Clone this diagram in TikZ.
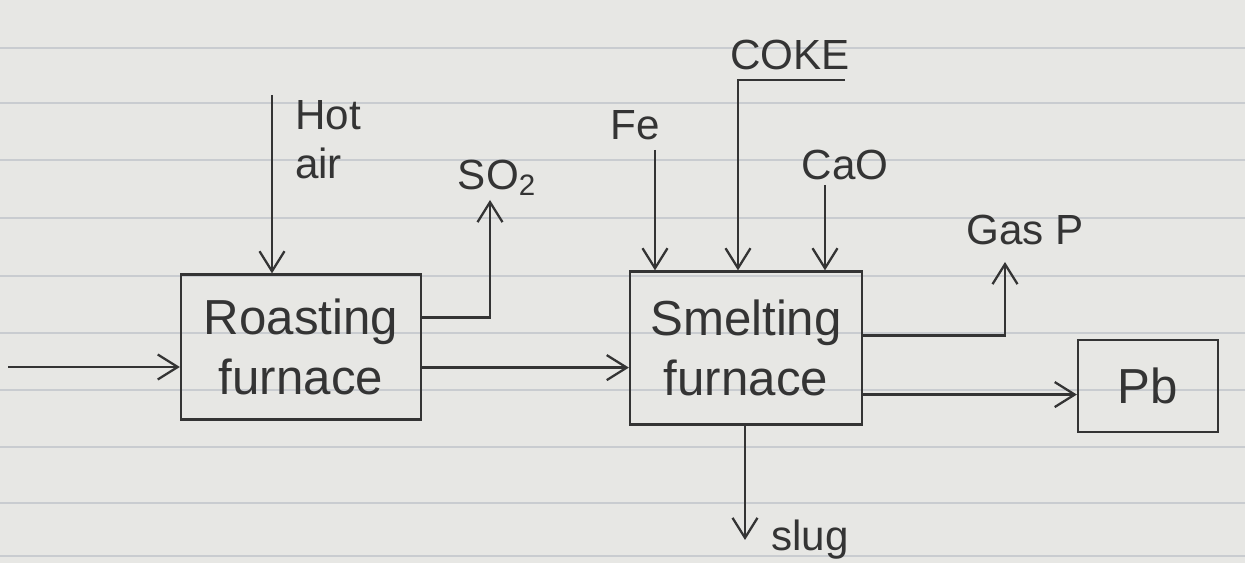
\documentclass[tikz,border=0pt]{standalone}
\usepackage{fontspec}
\setmainfont{Liberation Sans}
\usetikzlibrary{arrows.meta,calc}
\definecolor{paper}{HTML}{E7E7E4}
\definecolor{rule}{HTML}{C9CCD0}
\definecolor{ink}{HTML}{343434}
\begin{document}
\begin{tikzpicture}[x=0.02cm,y=-0.02cm,
  ink/.style={draw=ink,line width=1.3pt},
  flow/.style={ink,-{Straight Barb[length=4mm,width=5mm,line width=1.3pt]}},
  furnacebox/.style={ink,rectangle,align=center,text=ink,font=\fontsize{28}{34}\selectfont},
  lbl/.style={text=ink,font=\fontsize{24}{28}\selectfont,inner sep=1pt}]
\useasboundingbox (0,0) rectangle (1245,563);
\fill[paper] (0,0) rectangle (1245,563);
\foreach \y in {48,103,160,218,276,333,390,447,503,556}
  \draw[rule,line width=1pt] (0,\y) -- (1245,\y);

% boxes
\node[furnacebox,minimum width=4.8cm,minimum height=2.9cm] (roast) at (301,347) {Roasting\\furnace};
\node[furnacebox,minimum width=4.64cm,minimum height=3.06cm] (smelt) at (746,348) {Smelting\\furnace};
\node[furnacebox,minimum width=2.8cm,minimum height=1.84cm] (pb) at (1148,386) {Pb};

% labels
\node[lbl,align=left] (hotair) at (328,140) {Hot\\air};
\node[lbl] (so2lbl) at (497,178) {SO\textsubscript{2}};
\node[lbl] (felbl) at (635,125) {Fe};
\node[lbl] (cokelbl) at (790,55) {COKE};
\node[lbl] (caolbl) at (845,165) {CaO};
\node[lbl] (gaslbl) at (1025,230) {Gas P};
\node[lbl] (sluglbl) at (810,540) {slug};

% free ends
\coordinate (in) at (8,367);
\coordinate (ha) at (272,95);
\coordinate (so2) at (490,200);
\coordinate (fe) at (655,150);
\coordinate (coke1) at (845,80);
\coordinate (coke2) at (738,80);
\coordinate (cao) at (825,185);
\coordinate (gas) at (1005,262);
\coordinate (slug) at (745,540);

% connectors
\draw[flow] (in) -- (in -| roast.west);
\draw[flow] (ha) -- (ha |- roast.north);
\draw[flow] ($(roast.north east)!0.3!(roast.south east)$) -| (so2);
\draw[flow] ($(roast.north east)!0.64!(roast.south east)$) coordinate (r2) -- (r2 -| smelt.west);
\draw[flow] (fe) -- (fe |- smelt.north);
\draw[flow] (coke1) -- (coke2) -- (coke2 |- smelt.north);
\draw[flow] (cao) -- (cao |- smelt.north);
\draw[flow] ($(smelt.north east)!0.42!(smelt.south east)$) -| (gas);
\draw[flow] ($(smelt.north east)!0.8!(smelt.south east)$) coordinate (s2) -- (s2 -| pb.west);
\draw[flow] (slug |- smelt.south) -- (slug);
\end{tikzpicture}
\end{document}
